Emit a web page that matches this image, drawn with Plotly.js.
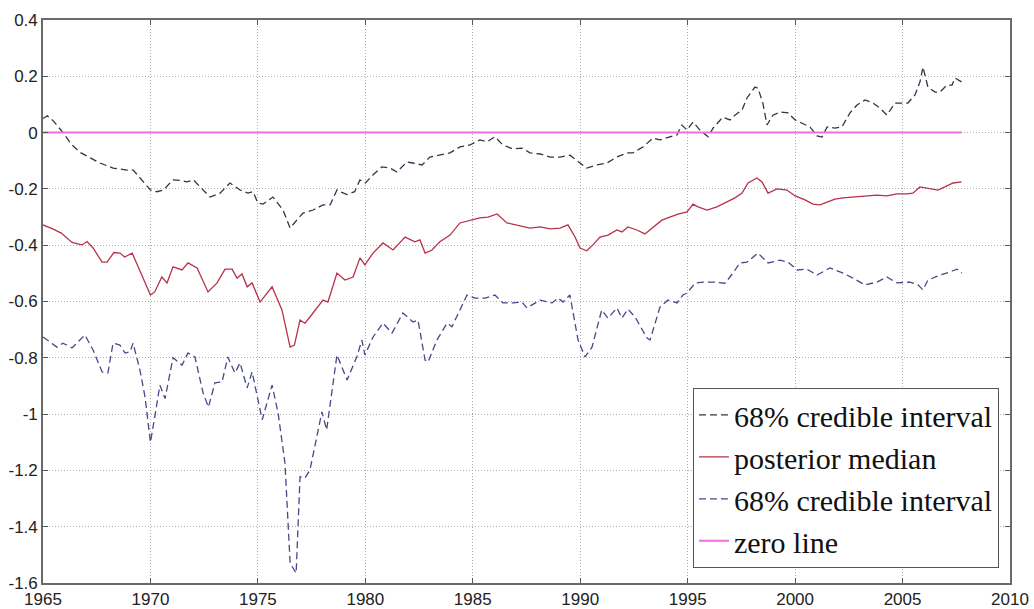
<!DOCTYPE html>
<html>
<head>
<meta charset="utf-8">
<script src="https://cdn.plot.ly/plotly-3.0.1.min.js"></script>
<style>html,body{margin:0;padding:0;background:#fff;}#chart{width:1034px;height:609px;}</style>
</head>
<body>
<div id="chart"></div>
<script>
// ---- data ----
const upperDates = [1965.0,1965.2,1965.5,1965.93,1966.3,1966.72,1967.2,1967.65,1968.26,1968.9,1969.2,1969.6,1970.0,1970.3,1970.6,1971.05,1971.4,1971.7,1972.0,1972.4,1972.77,1973.24,1973.7,1974.17,1974.54,1974.77,1975.0,1975.24,1975.7,1976.17,1976.5,1976.82,1977.1,1977.57,1978.03,1978.36,1978.68,1978.82,1979.15,1979.5,1979.75,1980.0,1980.36,1980.77,1981.15,1981.47,1981.94,1982.2,1982.64,1983.0,1983.47,1983.94,1984.4,1984.87,1985.33,1985.66,1986.03,1986.4,1986.87,1987.29,1987.66,1988.13,1988.6,1989.06,1989.52,1989.99,1990.3,1990.78,1991.24,1991.7,1992.18,1992.45,1992.92,1993.39,1993.7,1994.17,1994.5,1994.73,1994.97,1995.25,1995.57,1995.95,1996.18,1996.64,1996.97,1997.2,1997.53,1997.76,1998.13,1998.27,1998.5,1998.69,1998.97,1999.3,1999.67,2000.0,2000.37,2000.69,2001.02,2001.25,2001.49,2001.85,2002.18,2002.55,2002.88,2003.25,2003.62,2003.95,2004.27,2004.65,2004.97,2005.25,2005.58,2005.81,2005.95,2006.18,2006.51,2006.74,2007.07,2007.3,2007.44,2007.75];
const upperValues = [0.05,0.06,0.04,0.0,-0.04,-0.07,-0.09,-0.108,-0.126,-0.133,-0.133,-0.17,-0.204,-0.21,-0.204,-0.168,-0.17,-0.175,-0.168,-0.2,-0.229,-0.215,-0.179,-0.204,-0.215,-0.21,-0.25,-0.254,-0.229,-0.275,-0.339,-0.31,-0.286,-0.275,-0.257,-0.257,-0.204,-0.21,-0.22,-0.21,-0.168,-0.179,-0.15,-0.122,-0.126,-0.14,-0.104,-0.108,-0.115,-0.087,-0.08,-0.072,-0.051,-0.044,-0.026,-0.033,-0.015,-0.044,-0.058,-0.055,-0.072,-0.076,-0.087,-0.087,-0.08,-0.108,-0.126,-0.115,-0.108,-0.087,-0.072,-0.072,-0.051,-0.019,-0.026,-0.015,-0.008,0.027,0.009,0.038,0.009,-0.015,0.016,0.055,0.045,0.062,0.08,0.123,0.162,0.158,0.105,0.027,0.062,0.073,0.07,0.045,0.031,0.02,-0.012,-0.016,0.02,0.016,0.02,0.07,0.098,0.116,0.105,0.087,0.062,0.105,0.105,0.105,0.134,0.18,0.233,0.162,0.144,0.144,0.169,0.169,0.194,0.18];

const medianDates = [1965.0,1965.4,1965.85,1966.35,1966.81,1967.05,1967.33,1967.75,1967.98,1968.3,1968.58,1968.8,1969.15,1969.55,1970.0,1970.2,1970.53,1970.77,1971.05,1971.47,1971.75,1972.17,1972.4,1972.68,1973.1,1973.47,1973.8,1974.03,1974.26,1974.5,1974.73,1975.1,1975.66,1976.12,1976.5,1976.7,1976.96,1977.19,1977.42,1977.75,1978.03,1978.26,1978.68,1979.05,1979.43,1979.75,1979.98,1980.36,1980.82,1981.29,1981.85,1982.31,1982.54,1982.78,1983.1,1983.47,1983.94,1984.4,1984.87,1985.33,1985.71,1986.13,1986.59,1987.06,1987.4,1987.66,1988.13,1988.6,1989.06,1989.43,1989.76,1989.99,1990.3,1990.59,1990.92,1991.29,1991.71,1991.94,1992.22,1992.64,1993.01,1993.39,1993.8,1994.17,1994.55,1994.97,1995.25,1995.48,1995.9,1996.36,1996.83,1997.2,1997.53,1997.81,1998.22,1998.46,1998.74,1999.16,1999.62,2000.0,2000.46,2000.83,2001.16,2001.49,2001.85,2002.23,2002.69,2003.34,2003.81,2004.27,2004.74,2005.21,2005.48,2005.81,2006.18,2006.65,2006.97,2007.35,2007.75];
const medianValues = [-0.328,-0.34,-0.357,-0.39,-0.399,-0.387,-0.41,-0.46,-0.46,-0.426,-0.428,-0.442,-0.428,-0.5,-0.577,-0.566,-0.513,-0.534,-0.477,-0.488,-0.463,-0.481,-0.52,-0.566,-0.534,-0.485,-0.485,-0.517,-0.502,-0.548,-0.534,-0.602,-0.548,-0.63,-0.762,-0.755,-0.666,-0.677,-0.655,-0.623,-0.595,-0.602,-0.499,-0.524,-0.513,-0.445,-0.47,-0.428,-0.392,-0.417,-0.371,-0.388,-0.381,-0.428,-0.417,-0.388,-0.364,-0.321,-0.311,-0.303,-0.3,-0.289,-0.321,-0.328,-0.335,-0.339,-0.335,-0.342,-0.339,-0.328,-0.371,-0.41,-0.42,-0.399,-0.371,-0.364,-0.346,-0.353,-0.335,-0.346,-0.36,-0.335,-0.311,-0.3,-0.29,-0.282,-0.254,-0.264,-0.275,-0.264,-0.247,-0.232,-0.215,-0.179,-0.161,-0.175,-0.215,-0.2,-0.204,-0.225,-0.239,-0.254,-0.257,-0.247,-0.236,-0.232,-0.229,-0.225,-0.222,-0.225,-0.218,-0.218,-0.215,-0.193,-0.197,-0.204,-0.193,-0.179,-0.175];

const lowerDates = [1965.0,1965.65,1965.93,1966.35,1966.95,1967.33,1967.75,1968.02,1968.26,1968.58,1968.82,1969.05,1969.19,1969.51,1969.75,1970.0,1970.2,1970.44,1970.68,1970.82,1971.05,1971.47,1971.75,1972.07,1972.45,1972.7,1973.0,1973.33,1973.6,1973.93,1974.17,1974.5,1974.73,1975.2,1975.66,1975.94,1976.26,1976.5,1976.78,1976.96,1977.19,1977.42,1977.98,1978.2,1978.68,1979.15,1979.6,1979.84,1979.98,1980.36,1980.82,1981.24,1981.75,1982.22,1982.45,1982.78,1982.92,1983.33,1983.8,1984.03,1984.4,1984.73,1985.1,1985.57,1986.03,1986.4,1986.87,1987.29,1987.52,1988.13,1988.69,1988.97,1989.2,1989.52,1989.9,1990.22,1990.55,1991.0,1991.29,1991.71,1991.94,1992.22,1992.55,1993.1,1993.25,1993.71,1994.08,1994.5,1994.78,1994.97,1995.34,1995.71,1996.18,1996.74,1997.11,1997.43,1997.76,1998.27,1998.74,1999.3,1999.67,2000.09,2000.55,2001.02,2001.62,2002.23,2002.69,2003.25,2003.81,2004.27,2004.74,2005.34,2005.72,2005.95,2006.18,2006.74,2007.21,2007.53,2007.76];
const lowerValues = [-0.726,-0.762,-0.748,-0.765,-0.719,-0.772,-0.85,-0.854,-0.748,-0.755,-0.783,-0.779,-0.748,-0.843,-0.94,-1.1,-1.01,-0.897,-0.945,-0.89,-0.8,-0.826,-0.783,-0.797,-0.925,-0.975,-0.889,-0.886,-0.797,-0.854,-0.818,-0.907,-0.85,-1.02,-0.897,-0.996,-1.174,-1.529,-1.565,-1.223,-1.227,-1.199,-0.992,-1.056,-0.79,-0.879,-0.797,-0.737,-0.79,-0.726,-0.677,-0.712,-0.641,-0.673,-0.666,-0.808,-0.815,-0.737,-0.677,-0.69,-0.63,-0.577,-0.588,-0.588,-0.577,-0.605,-0.605,-0.602,-0.623,-0.595,-0.605,-0.588,-0.602,-0.577,-0.737,-0.797,-0.762,-0.63,-0.659,-0.623,-0.659,-0.627,-0.655,-0.729,-0.737,-0.62,-0.595,-0.605,-0.577,-0.57,-0.535,-0.531,-0.531,-0.535,-0.499,-0.463,-0.46,-0.428,-0.463,-0.453,-0.46,-0.488,-0.485,-0.506,-0.481,-0.499,-0.517,-0.541,-0.531,-0.513,-0.534,-0.531,-0.541,-0.559,-0.524,-0.506,-0.495,-0.485,-0.499];

const zeroDates = [1965.0, 2007.75];
const zeroValues = [0, 0];

const seriesNames = ['68% credible interval', 'posterior median', '68% credible interval', 'zero line'];

const xTickVals = [1965,1970,1975,1980,1985,1990,1995,2000,2005,2010];
const xTickText = ['1965','1970','1975','1980','1985','1990','1995','2000','2005','2010'];
const yTickVals = [0.4,0.2,0,-0.2,-0.4,-0.6,-0.8,-1,-1.2,-1.4,-1.6];
const yTickText = ['0.4','0.2','0','-0.2','-0.4','-0.6','-0.8','-1','-1.2','-1.4','-1.6'];

// ---- traces ----
const traces = [
  {x: upperDates, y: upperValues, name: seriesNames[0], type: 'scatter', mode: 'lines',
   line: {color: '#333348', width: 1.3, dash: '7px,4px'}},
  {x: medianDates, y: medianValues, name: seriesNames[1], type: 'scatter', mode: 'lines',
   line: {color: '#b8304a', width: 1.3}},
  {x: lowerDates, y: lowerValues, name: seriesNames[2], type: 'scatter', mode: 'lines',
   line: {color: '#46488a', width: 1.3, dash: '7px,4px'}},
  {x: zeroDates, y: zeroValues, name: seriesNames[3], type: 'scatter', mode: 'lines',
   line: {color: '#ee6ee0', width: 2}}
];

const axisCommon = {
  showline: true, linecolor: '#6a6a6a', linewidth: 1.8, mirror: 'allticks',
  ticks: 'inside', ticklen: 5, tickcolor: '#555', tickwidth: 1,
  showgrid: true, gridcolor: '#b0b0b0', griddash: '1px,2px', gridwidth: 1,
  zeroline: false,
  tickfont: {family: 'Liberation Sans, Arial, sans-serif', size: 17, color: '#222'}
};

const layout = {
  width: 1034, height: 609,
  margin: {l: 43, r: 24, t: 20, b: 26, pad: 0},
  paper_bgcolor: '#ffffff', plot_bgcolor: '#ffffff',
  showlegend: true,
  xaxis: Object.assign({}, axisCommon, {range: [1965, 2010], tickmode: 'array', tickvals: xTickVals, ticktext: xTickText}),
  yaxis: Object.assign({}, axisCommon, {range: [-1.6, 0.4], tickmode: 'array', tickvals: yTickVals, ticktext: yTickText}),
  legend: {
    x: 0.9886, y: 0.027, xanchor: 'right', yanchor: 'bottom',
    bgcolor: '#ffffff', bordercolor: '#555', borderwidth: 1,
    font: {family: '"Liberation Serif", "Times New Roman", serif', size: 30, color: '#111'},
    tracegroupgap: 0, itemwidth: 30
  },
  hovermode: false
};

Plotly.newPlot('chart', traces, layout, {displayModeBar: false, staticPlot: true});
</script>
</body>
</html>
